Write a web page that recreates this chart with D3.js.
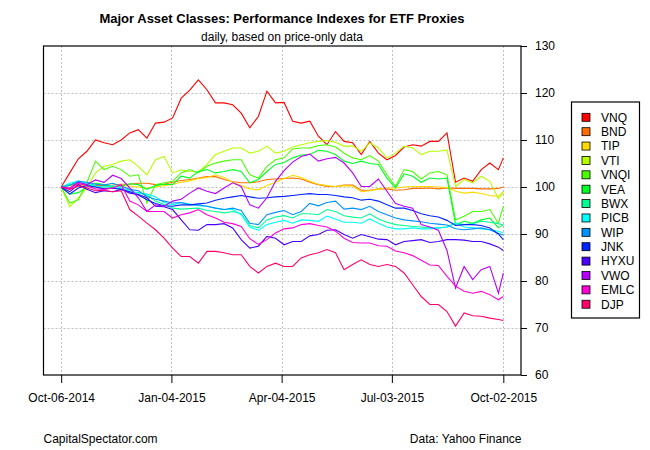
<!DOCTYPE html>
<html><head><meta charset="utf-8">
<script src="https://cdn.jsdelivr.net/npm/d3@7"></script>
<style>
html,body{margin:0;padding:0;background:#fff;}
svg text{font-family:"Liberation Sans",Arial,sans-serif;fill:#000;}
</style></head>
<body><svg id="chart" width="650" height="450"></svg>
<script>
const dates = ["2014-10-06","2014-10-13","2014-10-20","2014-10-27","2014-11-03","2014-11-10","2014-11-17","2014-11-24","2014-12-01","2014-12-08","2014-12-15","2014-12-22","2014-12-29",
"2015-01-05","2015-01-12","2015-01-19","2015-01-26","2015-02-02","2015-02-09","2015-02-16","2015-02-23","2015-03-02","2015-03-09","2015-03-16","2015-03-23","2015-03-30",
"2015-04-06","2015-04-13","2015-04-20","2015-04-27","2015-05-04","2015-05-11","2015-05-18","2015-05-25","2015-06-01","2015-06-08","2015-06-15","2015-06-22","2015-06-29",
"2015-07-06","2015-07-13","2015-07-20","2015-07-27","2015-08-03","2015-08-10","2015-08-17","2015-08-24","2015-08-31","2015-09-07","2015-09-14","2015-09-21","2015-09-28","2015-10-02"];

const VNQ  = [100,103,106,107.6,110,109.4,109,110,111.5,112.2,110.4,113.6,113.8, 114.7,118.9,120.6,122.8,120.7,117.9,117.9,117.5,115.7,112.6,115,120.4,117.9, 118,114,113.6,114,110.8,109,111.8,109.7,109.4,106.9,109.7,107.2,105.8, 106.7,108.5,109,108.7,109.7,109.7,111.5,101,101.9,101.2,103.7,105.1,103.7,106.2];
const BND  = [100,100.5,100.6,100.5,100.3,100.3,100.4,100.6,100.6,100.8,100.8,100.5,100.6, 101.0,101.4,101.6,101.9,102.2,102.2,101.6,101.1,100.9,100.9,101.1,101.6,101.7, 101.8,101.9,101.7,101.0,100.5,100.1,100.1,100.4,100.4,99.3,99.3,99.6,99.6, 99.3,99.4,99.7,99.7,99.8,99.6,99.8,99.7,99.7,99.7,99.6,99.6,99.7,100];
const TIP  = [100,100.3,100.4,100.3,100.0,100.0,100.1,100.3,100.2,100.0,99.8,100.0,100.3, 100.6,101.0,101.3,101.8,102.0,102.6,102.0,101.0,100.3,99.6,99.4,100.3,101.0, 101.8,102.5,102.0,101.2,100.6,100.3,100.1,100.3,100.2,99.0,99.2,99.6,99.8, 99.8,100,100.1,100.1,100.1,100.0,99.9,99.1,98.7,98.9,98.6,98.2,98.0,99.0];
const VTI  = [100,95.8,97.7,99.8,103.0,104.4,104.8,105.5,105.8,104.4,102.6,105.8,106.5, 103.0,103.6,103.3,103.2,104.8,106.9,107.6,108.3,108.3,107.2,107.6,108.7,107.2, 107.6,108.5,109.0,109.4,109.7,109.9,109.5,108.7,108.7,107.6,109.4,108.3,106.2, 107.2,108.7,108.3,106.9,107.6,107.6,107.9,100.1,101.6,100.9,102.3,101.2,97.5,98.8];
const VNQI = [100,96.6,97.3,100.9,105.5,103.7,104.4,103.7,102.3,102.6,96.6,100.5,100.9, 101.2,103.0,103.7,103.0,104.4,105.1,105.5,105.8,105.8,102.6,101.9,104.4,105.8, 106.2,108.1,108.3,108.3,108.8,109.0,108.5,107.2,106.2,105.8,106.7,105.5,102.6, 100.1,103.7,103.3,101.7,103.0,103.3,102.6,93.0,93.8,94.8,94.8,95.2,92.3,95.9];
const VEA  = [100,98.5,98.8,100.0,100.8,100.5,100.0,100.2,100.7,100.5,99.5,100.3,100.6, 100.5,102.3,101.9,103.3,103.7,103.0,103.3,103.7,103.3,100.9,101.6,103.3,104.8, 105.2,106.2,106.8,106.9,107.8,107.6,106.9,105.5,105.0,105.5,105.0,104.8,101.9, 99.8,102.8,102.3,101.0,101.9,101.7,101.9,92.0,92.7,92.3,93.0,93.4,91.3,92.0];
const BWX  = [100,100.5,101.0,100.6,100.0,99.8,99.8,99.6,99.0,98.8,98.3,97.0,96.3, 95.5,95.3,95.4,95.5,95.0,94.8,94.5,94.8,94.3,91.8,91.3,93.0,93.6, 93.9,93.4,94.3,94.3,94.1,95.2,94.8,93.9,93.6,93.4,94.3,93.2,92.5, 92.0,91.8,91.6,91.5,91.3,91.3,91.5,92.3,92.0,92.2,92.7,92.5,92.2,91.9];
const PICB = [100,100.8,101.3,100.8,100.2,100.0,100.3,99.8,99.3,98.6,98.5,97.9,96.7, 96.2,96.7,96.4,96.0,95.9,95.5,95.2,95.2,94.1,91.5,90.8,92.0,92.5, 92.9,92.3,93.0,92.9,92.7,93.8,93.2,92.5,92.5,92.3,93.2,92.3,91.5, 91.1,91.1,91.3,91.1,91.1,91.3,91.5,92.3,91.5,91.3,91.1,90.9,90.6,90.2];
const WIP  = [100,100.3,101.2,101.0,100.6,100.4,100.8,100.2,99.5,99.2,98.0,97.4,97.0, 96.6,96.7,96.2,96.2,95.9,95.5,95.2,95.5,95.0,92.3,92.0,94.1,94.6, 95.0,94.1,94.8,96.5,96.0,96.7,97.0,95.3,95.5,95.2,95.9,94.8,94.1, 93.4,93.0,92.8,92.6,92.3,92.1,91.9,91.1,90.9,91.1,91.3,90.9,90.1,89.8];
const JNK  = [100,98.5,99.8,100.3,100.0,99.6,99.8,99.5,99.0,98.3,97.3,96.5,96.0, 95.9,96.2,96.2,96.4,96.6,97.2,97.6,97.9,98.2,97.9,97.6,97.7,97.9, 98.0,98.2,98.4,98.6,98.4,98.4,98.2,97.9,97.7,97.2,97.4,97.0,96.2, 95.5,95.5,95.0,94.3,93.9,93.6,92.9,91.8,92.0,92.0,91.8,91.3,90.0,88.8];
const HYXU = [100,99.0,100.5,99.5,98.8,99.2,99.0,99.5,98.7,98.4,97.7,95.9,95.8, 95.2,93.0,90.9,90.8,92.0,92.0,92.2,91.3,88.8,87.0,87.4,89.5,89.1, 87.7,88.4,88.4,89.6,89.9,90.8,90.9,89.9,89.1,89.9,89.4,88.9,88.8, 87.7,88.4,88.6,88.8,88.2,88.4,88.8,88.8,88.7,88.4,88.4,87.9,87.2,86.5];
const VWO  = [100,99.8,101.0,100.5,101.5,101.0,102.5,101.8,99.8,97.7,94.8,96.2,95.9, 97.0,97.4,98.7,99.8,99.1,98.6,99.8,100.9,100.1,96.2,95.5,97.7,101.2, 103.5,105.3,106.5,107.0,105.5,106.0,106.3,105.1,103.0,100.1,100.1,101.7,99.1, 96.5,95.9,95.5,92.0,91.5,90.8,86.5,78.5,83.1,80.3,82.4,83.1,77.4,81.7];
const EMLC = [100,99.6,100.8,100.2,99.6,99.5,99.8,100.5,97.0,96.2,94.8,94.8,94.8, 93.4,94.1,94.5,95.2,94.1,93.4,92.5,92.2,91.6,89.0,87.8,88.8,90.2, 91.1,91.3,92.0,92.2,91.8,91.5,90.6,89.1,88.2,88.1,88.1,87.5,87.4, 86.4,86.0,85.4,84.4,83.4,83.3,81.0,78.9,77.8,77.4,77.8,77.1,76.0,76.7];
const DJP  = [100,99.5,100.2,99.8,99.2,99.3,99.0,99.2,95.2,93.8,92.3,90.9,89.1, 87.0,85.2,85.2,83.8,86.3,86.3,86.0,85.6,85.6,83.1,81.7,83.1,83.8, 83.1,83.1,84.9,85.6,86.0,86.7,86.0,82.4,83.5,84.5,83.5,83.1,83.5, 83.1,81.7,79.2,76.7,75.0,75.0,73.5,70.4,73.2,72.6,72.5,72.1,71.8,71.6];

const seriesNames = ["VNQ","BND","TIP","VTI","VNQI","VEA","BWX","PICB","WIP","JNK","HYXU","VWO","EMLC","DJP"];
const seriesValues = [VNQ,BND,TIP,VTI,VNQI,VEA,BWX,PICB,WIP,JNK,HYXU,VWO,EMLC,DJP];
const seriesColors = ["#FF0000","#FF6D00","#FFDB00","#B6FF00","#49FF00","#00FF24","#00FF92","#00FFFF","#0092FF","#0024FF","#4900FF","#B600FF","#FF00DB","#FF006D"];
const xTickLabels = ["Oct-06-2014","Jan-04-2015","Apr-04-2015","Jul-03-2015","Oct-02-2015"];
const yTicks = [60,70,80,90,100,110,120,130];
const titleText = "Major Asset Classes: Performance Indexes for ETF Proxies";
const subtitleText = "daily, based on price-only data";
const leftNote = "CapitalSpectator.com";
const rightNote = "Data: Yahoo Finance";

const svg = d3.select("#chart");
const L = 43.5, R = 521, T = 46, B = 375;
const parse = d3.timeParse("%Y-%m-%d");
const parseTick = d3.timeParse("%b-%d-%Y");
const dts = dates.map(parse);
const d0 = dts[0], d1 = dts[dts.length-1];
const pad = (d1 - d0) * 0.04;
const x = d3.scaleTime().domain([new Date(+d0 - pad), new Date(+d1 + pad)]).range([L, R]);
const y = d3.scaleLinear().domain([60,130]).range([B, T]);
const tickDates = xTickLabels.map(parseTick);

svg.append("rect").attr("width",650).attr("height",450).attr("fill","#fff");

// grid
const g = svg.append("g").attr("stroke","#BEBEBE").attr("stroke-dasharray","2,2").attr("stroke-width",1);
yTicks.filter(v => v > 60 && v < 130).forEach(v => {
  g.append("line").attr("x1",L).attr("x2",R).attr("y1",Math.round(y(v))+0.5).attr("y2",Math.round(y(v))+0.5);
});
tickDates.forEach(d => {
  g.append("line").attr("y1",T).attr("y2",B).attr("x1",Math.round(x(d))+0.5).attr("x2",Math.round(x(d))+0.5);
});

// lines
const line = d3.line().x((d,i) => x(dts[i])).y(d => y(d));
const clip = svg.append("clipPath").attr("id","clip").append("rect").attr("x",L).attr("y",T).attr("width",R-L).attr("height",B-T);
const lg = svg.append("g").attr("clip-path","url(#clip)");
seriesValues.forEach((vals,i) => {
  lg.append("path").datum(vals).attr("d",line).attr("fill","none")
    .attr("stroke",seriesColors[i]).attr("stroke-width",1.1).attr("stroke-linejoin","miter");
});

// box
svg.append("rect").attr("x",L).attr("y",T).attr("width",R-L).attr("height",B-T)
  .attr("fill","none").attr("stroke","#000").attr("stroke-width",1.2);

// axes
const ya = svg.append("g").attr("transform",`translate(${R},0)`)
  .call(d3.axisRight(y).tickValues(yTicks).tickSize(6).tickPadding(8).tickFormat(d3.format("d")));
ya.select(".domain").remove();
ya.selectAll("line").attr("stroke","#000");
ya.selectAll("text").attr("font-size",12).attr("font-family","Liberation Sans, Arial, sans-serif");

const xa = svg.append("g").attr("transform",`translate(0,${B})`)
  .call(d3.axisBottom(x).tickValues(tickDates).tickSize(8).tickPadding(10).tickFormat((d,i) => xTickLabels[i]));
xa.select(".domain").remove();
xa.selectAll("line").attr("stroke","#000");
xa.selectAll("text").attr("font-size",12).attr("font-family","Liberation Sans, Arial, sans-serif");

// titles
svg.append("text").attr("x",282).attr("y",23).attr("text-anchor","middle")
  .attr("font-size",13).attr("font-weight","bold").text(titleText);
svg.append("text").attr("x",282).attr("y",41).attr("text-anchor","middle")
  .attr("font-size",12).text(subtitleText);
svg.append("text").attr("x",43.5).attr("y",443).attr("font-size",12).text(leftNote);
svg.append("text").attr("x",521.5).attr("y",443).attr("text-anchor","end").attr("font-size",12).text(rightNote);

// legend
const lgX = 571.5, lgY = 102, step = 14.38;
svg.append("rect").attr("x",lgX).attr("y",lgY).attr("width",68).attr("height",216)
  .attr("fill","#fff").attr("stroke","#000").attr("stroke-width",1.2);
seriesNames.forEach((n,i) => {
  const cy = lgY + 15.3 + i*step;
  svg.append("rect").attr("x",582).attr("y",cy-4).attr("width",8).attr("height",8)
    .attr("fill",seriesColors[i]).attr("stroke","#000").attr("stroke-width",0.8);
  svg.append("text").attr("x",601).attr("y",cy+4.3).attr("font-size",12).text(n);
});
</script>
</body></html>
